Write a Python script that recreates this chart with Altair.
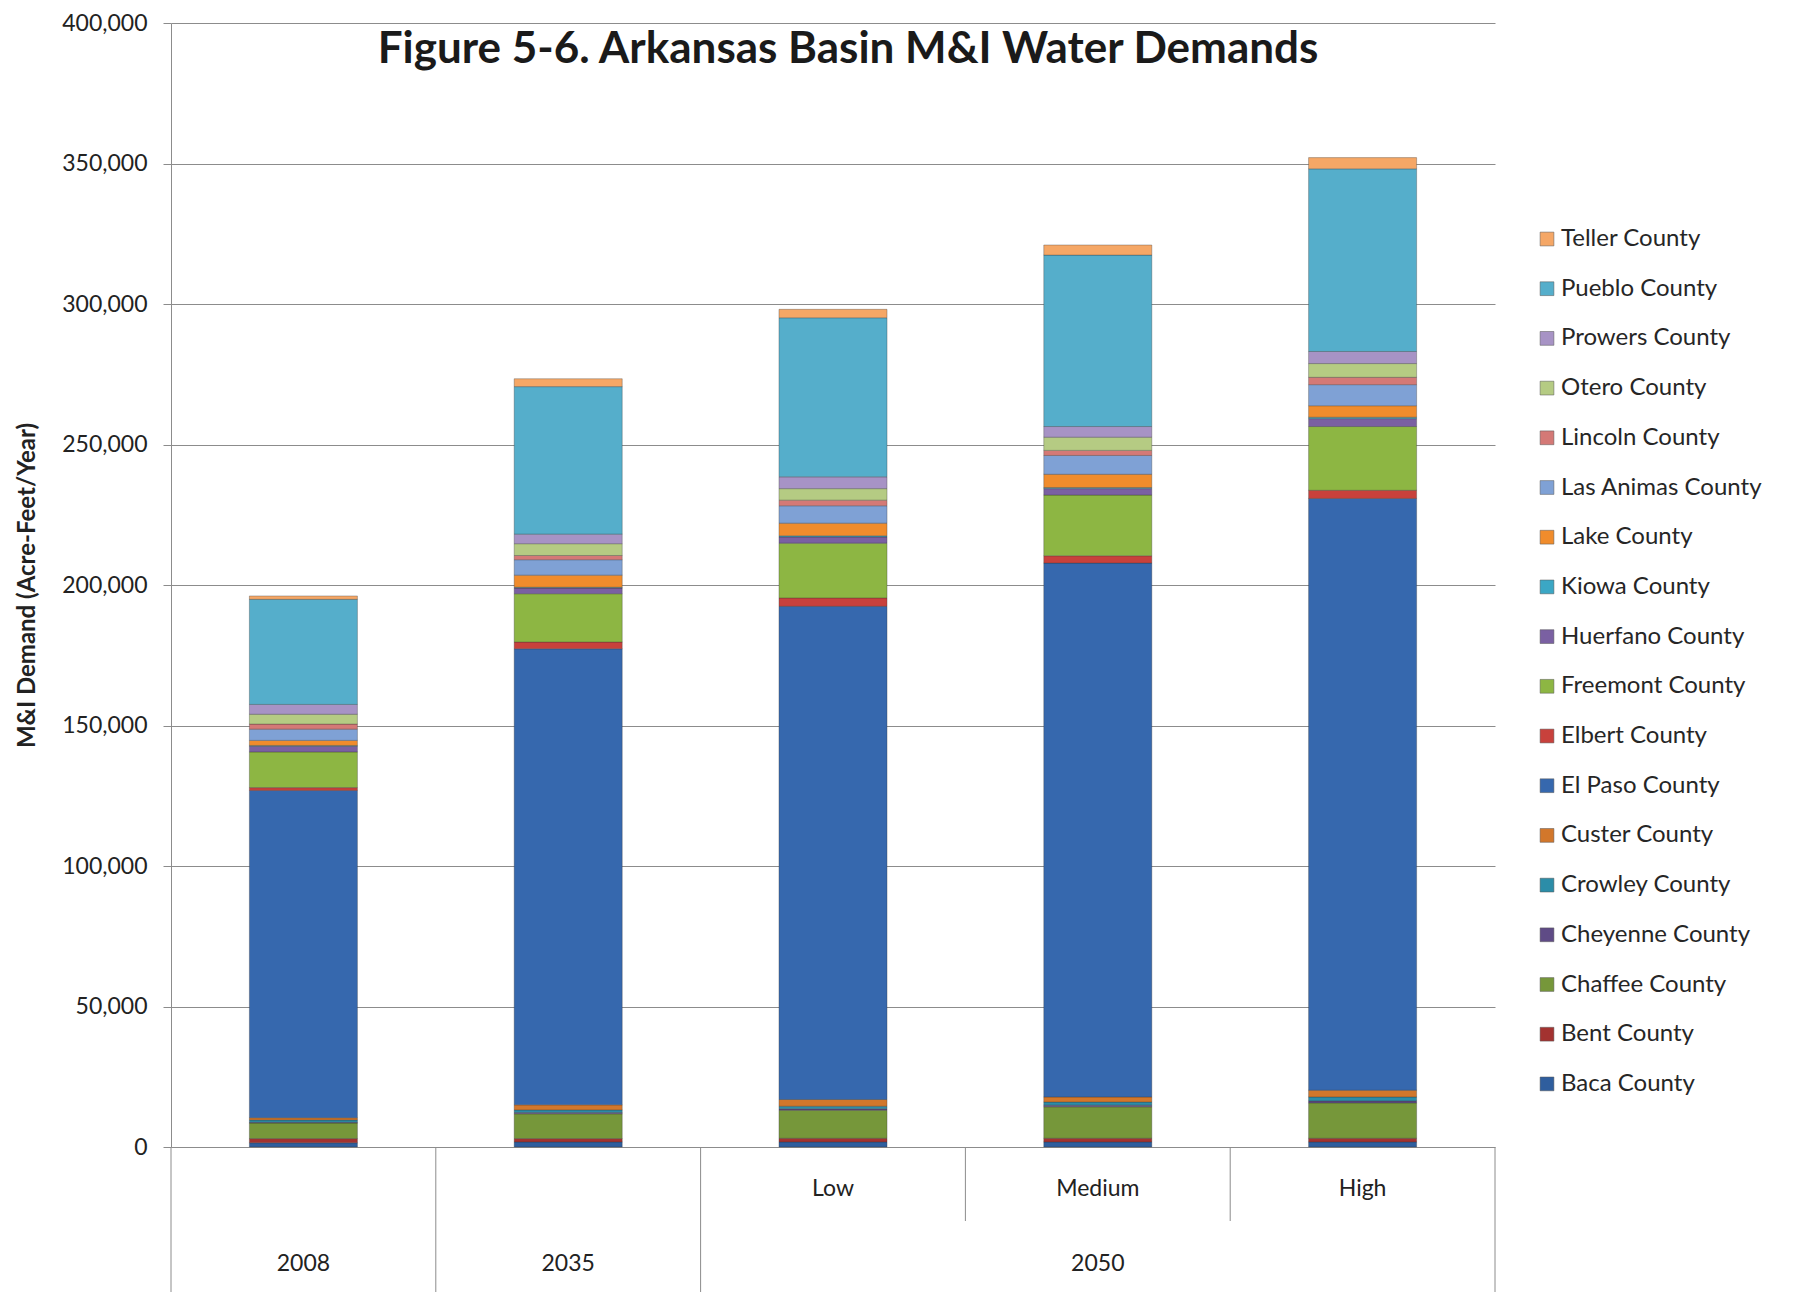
import altair as alt
import pandas as pd

# ---------------- data ----------------
cats = ["2008", "2035", "Low", "Medium", "High"]
level1_labels = ["", "", "Low", "Medium", "High"]
level2_groups = ["2008", "2035", "2050"]
level2_spans = [1, 1, 3]

counties = [
    "Baca County", "Bent County", "Chaffee County", "Cheyenne County",
    "Crowley County", "Custer County", "El Paso County", "Elbert County",
    "Freemont County", "Huerfano County", "Kiowa County", "Lake County",
    "Las Animas County", "Lincoln County", "Otero County", "Prowers County",
    "Pueblo County", "Teller County",
]

baca = [1500, 1800, 1800, 1800, 1800]
bent = [1500, 1200, 1300, 1300, 1300]
chaffee = [5500, 8800, 10000, 11200, 12600]
cheyenne = [300, 500, 500, 600, 700]
crowley = [800, 900, 900, 1100, 1400]
custer = [800, 1800, 2400, 1800, 2400]
el_paso = [116500, 162300, 175500, 190000, 210600]
elbert = [1000, 2400, 3000, 2600, 2900]
freemont = [12700, 17200, 19500, 21600, 22700]
huerfano = [2000, 2000, 2200, 2300, 2800]
kiowa = [300, 300, 400, 400, 500]
lake = [1800, 4300, 4500, 4700, 4100]
las_animas = [4000, 5500, 6200, 6700, 7500]
lincoln = [1800, 1500, 2000, 1800, 2600]
otero = [3500, 4200, 4100, 4700, 4900]
prowers = [3500, 3400, 4200, 3800, 4300]
pueblo = [37400, 52500, 56600, 61000, 65000]
teller = [1200, 2800, 3000, 3600, 4000]

series = [baca, bent, chaffee, cheyenne, crowley, custer, el_paso, elbert,
          freemont, huerfano, kiowa, lake, las_animas, lincoln, otero,
          prowers, pueblo, teller]

colors = [
    "#2F5E9E", "#A33230", "#76973A", "#5F4B86", "#2C8DA8", "#D2772B",
    "#3668AE", "#C8413C", "#8DB643", "#7A60A2", "#3BA7C5", "#F08C2C",
    "#7FA1D5", "#D47976", "#B5CB83", "#A793C5", "#55AECB", "#F5A766",
]

rows = []
for i, (name, vals) in enumerate(zip(counties, series)):
    for c, v in zip(cats, vals):
        rows.append({"cat": c, "county": name, "idx": i, "value": v})
df = pd.DataFrame(rows)

# x-structure helper tables (category index space)
group_bounds = [0]
for s in level2_spans:
    group_bounds.append(group_bounds[-1] + s)
all_bounds = list(range(len(cats) + 1))
long_df = pd.DataFrame({"pos": group_bounds})
short_df = pd.DataFrame({"pos": [b for b in all_bounds if b not in group_bounds]})
lvl1_df = pd.DataFrame({"pos": [i + 0.5 for i, t in enumerate(level1_labels) if t],
                        "label": [t for t in level1_labels if t]})
lvl2_df = pd.DataFrame({"pos": [(group_bounds[i] + group_bounds[i + 1]) / 2 for i in range(len(level2_groups))],
                        "label": level2_groups})
title_df = pd.DataFrame({"t": ["Figure 5-6. Arkansas Basin M&I Water Demands"]})

# ---------------- chart ----------------
W, H = 1324, 1124
FONT = "Lato"
GRID = "#8c8c8c"

xq = alt.Scale(domain=[0, len(cats)], nice=False, zero=False)

bars = alt.Chart(df).mark_bar(stroke="#333333", strokeWidth=0.6, strokeOpacity=0.55).encode(
    x=alt.X("cat:N", sort=cats,
            scale=alt.Scale(paddingInner=0.592, paddingOuter=0.296), axis=None),
    y=alt.Y("value:Q", stack="zero",
            scale=alt.Scale(domain=[0, 400000], nice=False),
            axis=alt.Axis(values=list(range(0, 400001, 50000)), format=",.0f",
                          grid=True, gridColor=GRID, gridWidth=1,
                          domainColor=GRID, tickColor=GRID, tickSize=8,
                          labelPadding=16, labelFontSize=23, labelColor="#222222",
                          title="M&I Demand (Acre-Feet/Year)", titleFontSize=24,
                          titleFontWeight="bold", titleColor="#222222",
                          titlePadding=22)),
    color=alt.Color("county:N",
                    scale=alt.Scale(domain=counties[::-1], range=colors[::-1]),
                    legend=alt.Legend(title=None, orient="none", legendX=1364, legendY=204,
                                      symbolType="square", symbolSize=190,
                                      symbolStrokeColor="#555555", symbolStrokeWidth=0.5,
                                      labelFontSize=24, labelColor="#262626", labelLimit=400,
                                      labelFont=FONT, rowPadding=25.7, labelOffset=2)),
    order=alt.Order("idx:Q", sort="ascending"),
)

long_rules = alt.Chart(long_df).mark_rule(color=GRID, strokeWidth=1).encode(
    x=alt.X("pos:Q", scale=xq, axis=None),
    y=alt.value(H), y2=alt.value(H + 146),
)
short_rules = alt.Chart(short_df).mark_rule(color=GRID, strokeWidth=1).encode(
    x=alt.X("pos:Q", scale=xq, axis=None),
    y=alt.value(H), y2=alt.value(H + 74),
)
lvl1_text = alt.Chart(lvl1_df).mark_text(fontSize=23, font=FONT, color="#222222",
                                         baseline="middle").encode(
    x=alt.X("pos:Q", scale=xq, axis=None), y=alt.value(H + 42), text="label:N")
lvl2_text = alt.Chart(lvl2_df).mark_text(fontSize=23, font=FONT, color="#222222",
                                         baseline="middle").encode(
    x=alt.X("pos:Q", scale=xq, axis=None), y=alt.value(H + 117), text="label:N")
title = alt.Chart(title_df).mark_text(fontSize=44, font=FONT, fontWeight="bold",
                                      color="#1a1a1a", baseline="middle").encode(
    x=alt.value(W / 2 + 15), y=alt.value(27), text="t:N")

chart = alt.layer(bars, long_rules, short_rules, lvl1_text, lvl2_text, title).resolve_scale(
    x="independent"
).properties(
    width=W, height=H,
    autosize=alt.AutoSizeParams(type="none"),
    padding={"left": 163, "top": 15, "right": 290, "bottom": 145},
).configure_view(stroke=None).configure_axis(labelFont=FONT, titleFont=FONT)

chart.save("out.html", embed_options={"renderer": "svg", "actions": False})
